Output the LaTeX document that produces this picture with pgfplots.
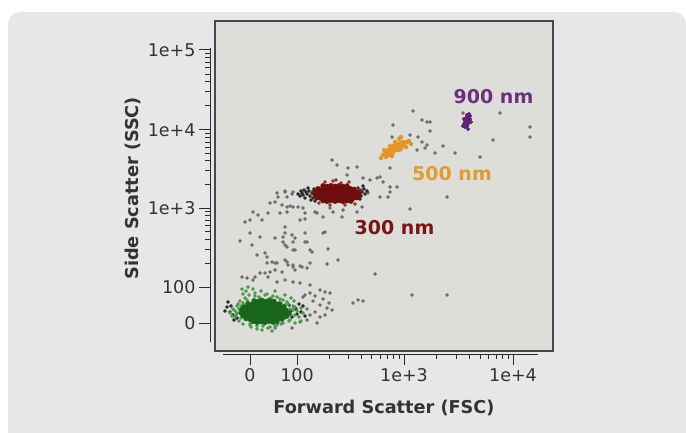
\documentclass[border=0pt]{standalone}
\usepackage{pgfplots}
\pgfplotsset{compat=1.18}
\usepackage{fontspec}
\setmainfont{DejaVu Sans}
\definecolor{panel}{HTML}{E6E7E9}
\definecolor{boxfill}{HTML}{DDDDDA}
\definecolor{boxline}{HTML}{474747}
\definecolor{axisc}{HTML}{2A2A2A}
\definecolor{ticktext}{HTML}{333333}
\definecolor{dotgray}{HTML}{6F696D}
\definecolor{dotdark}{HTML}{2E2A2D}
\definecolor{greencore}{HTML}{17661C}
\definecolor{greenout}{HTML}{4F9A4C}
\definecolor{redcore}{HTML}{6E0E0E}
\definecolor{redout}{HTML}{9A3434}
\definecolor{orangec}{HTML}{E3952A}
\definecolor{orangel}{HTML}{E39A33}
\definecolor{purplec}{HTML}{5F2470}
\definecolor{purplel}{HTML}{6E2F7E}
\definecolor{redl}{HTML}{781515}
\begin{document}
\begin{tikzpicture}
\useasboundingbox (0pt,0pt) rectangle (686pt,432pt);
\fill[white] (0pt,0pt) rectangle (686pt,432pt);
\fill[panel, rounded corners=12pt] (8pt,-30pt) rectangle (686pt,420pt);
% data box
\begin{axis}[
  at={(215pt,81pt)}, anchor=south west,
  x=1pt, y=1pt, xmin=0, xmax=338, ymin=0, ymax=330,
  axis line style={draw=boxline, line width=2.8pt},
  axis background/.style={fill=boxfill},
  xtick=\empty, ytick=\empty,
]
% gray scattered events
\addplot[only marks, mark=*, mark size=1.5pt, color=dotgray] coordinates {
(62,158) (63,154) (70,159) (77,157) (78,159)
(55,148) (60,149) (67,146) (72,144) (75,145) (78,144) (83,144) (88,143)
(38,139) (43,136) (53,138) (65,138) (72,139)
(30,129) (35,131) (47,131) (85,131) (90,132) (102,138) (108,134) (127,134)
(70,124) (110,119)
(35,118) (45,114) (60,113) (68,114) (77,116) (80,113) (90,118) (92,109)
(25,110) (37,106) (68,109) (72,104) (80,101) (97,99) (113,102)
(42,96) (50,98) (52,94) (57,89) (62,88) (70,91) (73,86) (78,84) (87,84) (92,83) (123,91)
(27,74) (32,73) (40,74) (50,78) (53,74) (60,81) (67,79) (80,81)
(52,88) (60,88) (72,89) (78,86) (85,85) (95,88) (112,87)
(38,71) (45,78) (55,79) (62,69) (70,71) (78,69) (85,68) (95,66) (105,61) (110,59) (115,58) (95,58) (88,54)
(105,46) (112,43) (117,41) (100,39) (95,36) (105,34) (92,31) (85,29) (77,23) (60,23)
(98,50) (108,52) (102,28) (110,36) (114,48) (90,56) (100,55)
(138,48) (143,51) (148,50) (160,77)
(70,160) (72,154) (90,138) (100,139) (115,143) (118,139) (128,141) (142,139) (147,144)
(108,118) (70,118) (78,109) (70,106) (90,109) (95,101) (78,101)
(117,191) (122,186) (133,183) (142,184) (132,176) (148,173) (155,171) (162,173) (168,169)
(175,164) (182,164) (175,159) (153,158) (165,154) (173,154) (195,142) (175,183) (165,174)
(198,240) (207,231) (212,229) (215,229) (215,220) (203,214) (207,209) (212,206) (210,203)
(202,201) (220,198) (228,205) (240,198) (232,154) (178,226) (177,214) (195,216)
(248,238) (285,238) (315,224) (315,214) (278,211) (265,194)
(197,56) (232,56)
};
% dark events near clusters
\addplot[only marks, mark=*, mark size=1.6pt, color=dotdark] coordinates {
(85,155) (87,158) (89,161) (90,153) (92,157) (94,160) (95,155) (97,158) (98,153) (99,162)
(88,156) (93,163) (86,160) (96,151) (91,159) (83,157) (100,150)
(142,157) (144,160) (146,155) (147,159) (149,162) (143,163) (145,152) (150,157) (148,165) (152,160)
(12,44) (15,39) (18,36) (22,33) (13,49) (10,40) (16,45) (19,31)
(76,40) (79,44) (82,37) (84,47) (77,34) (81,42) (86,39) (88,45) (90,35) (74,46)
(171,199) (174,196)
};
% green outer (lighter) events
\addplot[only marks, mark=*, mark size=1.6pt, color=greenout] coordinates {
(15,38) (18,42) (20,34) (22,45) (24,30) (25,50) (20,40) (17,35) (28,27) (30,53) (34,56)
(36,24) (40,58) (42,22) (46,60) (48,25) (52,57) (55,24) (58,55) (62,26) (65,52) (68,28)
(72,49) (75,31) (78,45) (80,36) (82,40) (84,34) (86,43) (76,53) (70,56) (60,60) (38,62)
(33,64) (28,57) (44,54) (54,52) (64,48) (26,33) (70,33) (35,27) (47,21) (57,20) (23,47)
(88,38) (86,30) (80,28) (79,50) (92,42) (31,60) (27,62)
(22,38) (24,42) (76,36) (78,41) (45,53) (56,53) (35,26) (60,25) (70,46) (28,48) (80,44) (74,30)
(40,55) (50,56) (62,54) (68,51) (32,51) (26,45) (21,36) (75,42) (42,25) (53,23) (66,27) (73,47)
};
% green core events
\addplot[only marks, mark=*, mark size=2.4pt, color=greencore] coordinates {
(38,29.5) (42,28.6) (46,29.3) (50,28.4) (54,29.6) (58,28.8) (62,29.4)
(31,32.4) (35,31.6) (39,32.5) (43,31.8) (47,32.3) (51,31.5) (55,32.6) (59,31.7) (63,32.2) (67,31.9)
(28,35.3) (32,34.6) (36,35.5) (40,34.7) (44,35.2) (48,34.5) (52,35.6) (56,34.8) (60,35.4) (64,34.6) (68,35.3) (72,34.9)
(26,38.2) (30,37.6) (34,38.5) (38,37.7) (42,38.3) (46,37.5) (50,38.6) (54,37.8) (58,38.4) (62,37.6) (66,38.3) (70,37.7) (74,38.2)
(27,41.4) (31,40.6) (35,41.5) (39,40.7) (43,41.3) (47,40.5) (51,41.6) (55,40.8) (59,41.2) (63,40.6) (67,41.5) (71,40.8)
(29,44.2) (33,43.6) (37,44.5) (41,43.7) (45,44.3) (49,43.5) (53,44.6) (57,43.8) (61,44.4) (65,43.6) (69,44.2)
(33,47.3) (37,46.6) (41,47.5) (45,46.7) (49,47.2) (53,46.5) (57,47.4) (61,46.8) (65,47.1)
(39,50.2) (43,49.6) (47,50.5) (51,49.7) (55,50.3) (59,49.6)
};
% 300 nm
\addplot[only marks, mark=*, mark size=1.6pt, color=redout] coordinates {
(110,169) (118,170) (126,168) (134,169) (104,148) (140,147) (98,160) (146,161) (115,146) (130,146) (121,171)
};
\addplot[only marks, mark=*, mark size=2.4pt, color=redcore] coordinates {
(108,150.3) (112,149.6) (116,150.5) (120,149.7) (124,150.4) (128,149.5) (132,150.2) (136,149.8)
(102,153.2) (106,152.6) (110,153.5) (114,152.7) (118,153.3) (122,152.5) (126,153.6) (130,152.8) (134,153.4) (138,152.6) (142,153.2)
(100,156.4) (104,155.6) (108,156.5) (112,155.7) (116,156.3) (120,155.5) (124,156.6) (128,155.8) (132,156.2) (136,155.6) (140,156.5) (144,155.9)
(100,159.2) (104,158.6) (108,159.5) (112,158.7) (116,159.3) (120,158.5) (124,159.6) (128,158.8) (132,159.4) (136,158.6) (140,159.2) (144,158.8)
(103,162.3) (107,161.6) (111,162.5) (115,161.7) (119,162.2) (123,161.5) (127,162.6) (131,161.8) (135,162.4) (139,161.7)
(108,165.2) (112,164.6) (116,165.4) (120,164.7) (124,165.3) (128,164.5) (132,165.1)
};
% 500 nm
\addplot[only marks, mark=*, mark size=2pt, color=orangec] coordinates {
(168,196) (170,199) (172,197) (173,201) (175,199) (176,203) (177,200) (178,205) (179,202) (180,204)
(181,201) (182,206) (183,203) (184,207) (185,204) (186,208) (187,205) (188,209) (189,206) (190,208)
(192,209) (194,210) (174,196) (178,198) (181,207) (184,201) (171,194) (166,193) (186,202) (180,209)
(175,205) (169,201) (196,207) (184,212) (186,214) (177,195) (191,204)
};
% 900 nm
\addplot[only marks, mark=*, mark size=1.8pt, color=purplec] coordinates {
(250,224) (252,225) (249,227) (251,228) (253,227) (250,230) (252,231) (254,230) (251,233) (253,234)
(255,232) (252,236) (254,237) (249,232) (256,229) (248,225) (253,222) (255,235)
};
\node[font=\bfseries\fontsize{19}{22}\selectfont, text=purplel] at (axis cs:278.5,254) {900 nm};
\node[font=\bfseries\fontsize{19}{22}\selectfont, text=orangel] at (axis cs:237,177) {500 nm};
\node[font=\bfseries\fontsize{19}{22}\selectfont, text=redl] at (axis cs:179.5,123) {300 nm};
\end{axis}
% x axis (detached)
\begin{axis}[
  at={(223pt,78pt)}, anchor=south west,
  x=1pt, y=1pt, xmin=8, xmax=323, ymin=0, ymax=1,
  axis x line=bottom, axis y line=none, tick align=outside,
  axis line style={-, draw=axisc, line width=1pt},
  tick style={draw=axisc, line width=1pt},
  major tick length=11pt, minor tick length=5pt,
  xtick={35,82,189,298}, xticklabels={0,100,1e+3,1e+4},
  minor xtick={114.2,133.0,146.4,156.8,165.3,172.4,178.6,184.1,221.8,241.0,254.6,265.2,273.8,281.1,287.4,293.0},
  xticklabel style={font=\fontsize{17.5}{20}\selectfont, text=ticktext},
  xlabel={Forward Scatter (FSC)},
  xlabel style={font=\bfseries\fontsize{17.7}{20}\selectfont, text=ticktext, at={(axis description cs:0.5,0)}, anchor=center, xshift=3.5pt, yshift=-54pt},
]
\end{axis}
% y axis (detached)
\begin{axis}[
  at={(210pt,90pt)}, anchor=south west,
  x=1pt, y=1pt, xmin=0, xmax=1, ymin=9, ymax=303,
  axis y line=left, axis x line=none, tick align=outside,
  axis line style={-, draw=axisc, line width=1pt},
  tick style={draw=axisc, line width=1pt},
  major tick length=11pt, minor tick length=5pt,
  ytick={28,64,143,221,301}, yticklabels={0,100,1e+3,1e+4,1e+5},
  minor ytick={87.8,101.7,111.6,119.2,125.5,130.8,135.3,139.4,166.5,180.2,190.0,197.5,203.7,208.9,213.4,217.4,245.1,259.2,269.2,276.9,283.2,288.6,293.2,297.3},
  yticklabel style={font=\fontsize{17.5}{20}\selectfont, text=ticktext},
  ylabel={Side Scatter (SSC)},
  ylabel style={font=\bfseries\fontsize{17.7}{20}\selectfont, text=ticktext, at={(axis description cs:0,0.523)}, anchor=center, rotate=0, yshift=77pt},
]
\end{axis}
\end{tikzpicture}
\end{document}
